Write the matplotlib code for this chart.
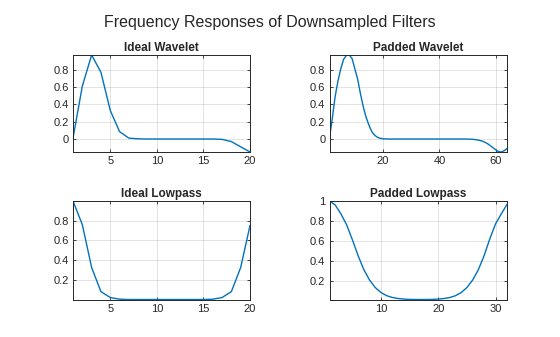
import matplotlib
matplotlib.use("Agg")
import matplotlib.pyplot as plt

ideal_wavelet = [0.01, 0.61, 0.97, 0.77, 0.33, 0.085, 0.01, 0.002, 0.0, 0.0,
                 0.0, 0.0, 0.0, 0.0, 0.0, 0.0, -0.004, -0.03, -0.09, -0.15]

padded_wavelet = [0.01, 0.24, 0.49, 0.67, 0.81, 0.92, 0.965, 0.97, 0.93, 0.81,
                  0.69, 0.52, 0.37, 0.25, 0.16, 0.085, 0.045, 0.02, 0.008, 0.003,
                  0.001, 0.0, 0.0, 0.0, 0.0, 0.0, 0.0, 0.0, 0.0, 0.0,
                  0.0, 0.0, 0.0, 0.0, 0.0, 0.0, 0.0, 0.0, 0.0, 0.0,
                  0.0, 0.0, 0.0, 0.0, 0.0, 0.0, 0.0, 0.0, 0.0, -0.001,
                  -0.002, -0.004, -0.008, -0.014, -0.022, -0.035, -0.052, -0.075, -0.10, -0.125,
                  -0.145, -0.15, -0.135, -0.11]

ideal_lowpass = [1.0, 0.76, 0.325, 0.08, 0.02, 0.003, 0.0, 0.0, 0.0, 0.0,
                 0.0, 0.0, 0.0, 0.0, 0.0, 0.003, 0.02, 0.08, 0.325, 0.75]

padded_lowpass = [1.0, 0.96, 0.87, 0.76, 0.61, 0.45, 0.31, 0.205, 0.13, 0.08,
                  0.048, 0.03, 0.02, 0.014, 0.011, 0.01, 0.01, 0.01, 0.011, 0.014,
                  0.02, 0.03, 0.048, 0.08, 0.13, 0.205, 0.31, 0.45, 0.62, 0.77,
                  0.87, 0.965]

titles = ["Ideal Wavelet", "Padded Wavelet", "Ideal Lowpass", "Padded Lowpass"]
series = [ideal_wavelet, padded_wavelet, ideal_lowpass, padded_lowpass]
xticks = [[5, 10, 15, 20], [20, 40, 60], [5, 10, 15, 20], [10, 20, 30]]
yticks = [[0, 0.2, 0.4, 0.6, 0.8], [0, 0.2, 0.4, 0.6, 0.8],
          [0.2, 0.4, 0.6, 0.8], [0.2, 0.4, 0.6, 0.8, 1]]
suptitle = "Frequency Responses of Downsampled Filters"

plt.rcParams['font.family'] = ['Liberation Sans', 'DejaVu Sans']
W, H = 560, 337
fig = plt.figure(figsize=(W / 100, H / 100), dpi=100)

# pixel boxes: left, right, top, bottom
boxes = [(73, 250, 55, 152), (329.5, 507, 55, 152),
         (73, 250, 201, 299.5), (329.5, 507, 201, 299.5)]
txtc = '#262626'
for i in range(4):
    l, r, t, b = boxes[i]
    ax = fig.add_axes([l / W, 1 - b / H, (r - l) / W, (b - t) / H])
    y = series[i]
    x = list(range(1, len(y) + 1))
    ax.plot(x, y, color='#0072BD', lw=1.0)
    ax.set_xlim(1, len(y))
    ax.set_ylim(min(y), max(y))
    ax.set_xticks(xticks[i])
    ax.set_yticks(yticks[i])
    ax.set_yticklabels([('%g' % v) for v in yticks[i]])
    ax.grid(True, color='#262626', alpha=0.15, lw=0.6)
    ax.set_axisbelow(True)
    ax.tick_params(direction='in', length=2.5, width=0.6, labelsize=8,
                   colors=txtc, top=True, right=True, pad=3)
    for s in ax.spines.values():
        s.set_color(txtc)
        s.set_linewidth(0.7)
    ax.set_title(titles[i], fontsize=8.5, fontweight='bold', color=txtc, pad=3)

fig.text(0.482, 1 - 22.7 / H, suptitle, ha='center', va='center',
         fontsize=11.5, color=txtc)
fig.savefig("out.png", dpi=100, facecolor='white')
